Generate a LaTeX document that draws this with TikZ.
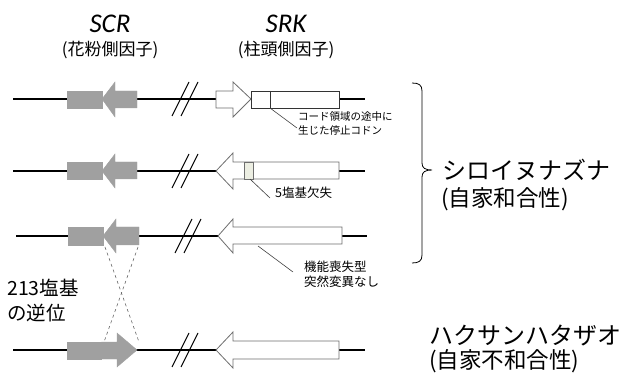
\documentclass[tikz,border=0pt]{standalone}
\usepackage{fontspec}
\setmainfont{Carlito}
\newfontfamily\jp{Noto Sans CJK JP}
\definecolor{genegray}{RGB}{160,160,160}
\definecolor{outl}{RGB}{110,110,110}
\definecolor{mutfill}{RGB}{236,238,226}
\tikzset{
  chrom/.style={line width=2.5pt, black},
  brk/.style={line width=1.1pt, black},
  graygene/.style={fill=genegray, draw=genegray, line width=0.4pt},
  whitegene/.style={fill=white, draw=outl, line width=0.8pt},
  leader/.style={draw=black!75, line width=0.6pt},
  small/.style={inner sep=0pt, align=left, font=\jp\fontsize{10.5}{14}\selectfont},
  mid/.style={inner sep=0pt, align=left, font=\jp\fontsize{12.5}{15}\selectfont},
  big/.style={inner sep=0pt, anchor=west, font=\jp\fontsize{24}{24}\selectfont},
  bigp/.style={inner sep=0pt, anchor=west, font=\jp\fontsize{22.5}{24}\selectfont},
}
\begin{document}
\begin{tikzpicture}[x=1pt,y=-1pt]
\useasboundingbox (0,0) rectangle (621,379);

% headers
\node[inner sep=0pt, font=\fontsize{27}{27}\selectfont\itshape] (scr) at (110,24) {SCR};
\node[inner sep=0pt, font=\jp\fontsize{17}{17}\selectfont] (scrj) at (110,50) {(花粉側因子)};
\node[inner sep=0pt, font=\fontsize{27}{27}\selectfont\itshape] (srk) at (286,24) {SRK};
\node[inner sep=0pt, font=\jp\fontsize{17}{17}\selectfont] (srkj) at (286,50) {(柱頭側因子)};

% ---------- row 1 (y=99)
\coordinate (r1a) at (13,99); \coordinate (r1b) at (365,99);
\draw[chrom] (r1a) -- (r1b);
\draw[brk] (172,116) -- (189,82);
\draw[brk] (181,116) -- (198,82);
\draw[graygene] (67,91) rectangle (102,108);
\draw[graygene] (102,99) -- (115,82) -- (115,91) -- (137,91) -- (137,108) -- (115,108) -- (115,117) -- cycle;
\draw[whitegene] (216,91) -- (233,91) -- (233,82) -- (251,99) -- (233,117) -- (233,108) -- (216,108) -- cycle;
\draw[fill=white, draw=black!80, line width=0.8pt] (251,91) rectangle (339,108);
\draw[black!80, line width=0.8pt] (270,91) -- (270,108);
\coordinate (s1) at (270,108); \coordinate (e1) at (297,128);
\draw[leader] (s1) -- (e1);
\node[small, anchor=north west] (t1) at (298,111) {コード領域の途中に\\生じた停止コドン};

% ---------- row 2 (y=171)
\coordinate (r2a) at (13,171); \coordinate (r2b) at (365,171);
\draw[chrom] (r2a) -- (r2b);
\draw[brk] (172,188) -- (189,154);
\draw[brk] (181,188) -- (198,154);
\draw[graygene] (67,162) rectangle (102,179);
\draw[graygene] (102,171) -- (115,154) -- (115,162) -- (137,162) -- (137,179) -- (115,179) -- (115,188) -- cycle;
\draw[whitegene] (216,171) -- (233,153) -- (233,162) -- (339,162) -- (339,179) -- (233,179) -- (233,189) -- cycle;
\draw[fill=mutfill, draw=outl, line width=0.8pt] (244,162) rectangle (253,179);
\coordinate (s2) at (250,179); \coordinate (e2) at (270,198);
\draw[leader] (s2) -- (e2);
\node[mid, anchor=west] (t2) at (275,193) {5塩基欠失};

% ---------- row 3 (y=236)
\coordinate (r3a) at (16,236); \coordinate (r3b) at (367,236);
\draw[chrom] (r3a) -- (r3b);
\draw[brk] (175,253) -- (192,219);
\draw[brk] (184,253) -- (201,219);
\draw[graygene] (68,227) rectangle (103,245);
\draw[graygene] (103,236) -- (116,219) -- (116,227) -- (139,227) -- (139,245) -- (116,245) -- (116,253) -- cycle;
\draw[whitegene] (218,236) -- (233,219) -- (233,227) -- (342,227) -- (342,244) -- (233,244) -- (233,253) -- cycle;
\coordinate (s3) at (258,246); \coordinate (e3) at (293,272);
\draw[leader] (s3) -- (e3);
\node[mid, anchor=north west] (t3) at (304,261) {機能喪失型\\突然変異なし};

% ---------- row 4 (y=350)
\coordinate (r4a) at (13,350); \coordinate (r4b) at (365,350);
\draw[chrom] (r4a) -- (r4b);
\draw[brk] (172,367) -- (189,333);
\draw[brk] (181,367) -- (198,333);
\draw[graygene] (67,342) rectangle (101,359);
\draw[graygene] (101.6,342) -- (117,342) -- (117,333) -- (137,350) -- (117,367) -- (117,359) -- (101.6,359) -- cycle;
\draw[whitegene] (216,350) -- (233,332) -- (233,341) -- (339,341) -- (339,359) -- (233,359) -- (233,368) -- cycle;

% inversion dashed lines
\coordinate (d1) at (105,247); \coordinate (d2) at (139,342);
\coordinate (d3) at (138,247); \coordinate (d4) at (104,342);
\draw[black!60, line width=0.6pt, dash pattern=on 3pt off 3pt] (d1) -- (d2);
\draw[black!60, line width=0.6pt, dash pattern=on 3pt off 3pt] (d3) -- (d4);
\node[inner sep=0pt, anchor=north west, align=left, font=\jp\fontsize{19.5}{25}\selectfont] (inv) at (7,279) {213塩基\\の逆位};

% brace
\draw[black, line width=0.8pt] (412,83) .. controls (419,83) and (422,85) .. (422,91) -- (422,163) .. controls (422,168) and (425,170) .. (432,170) .. controls (425,170) and (422,172) .. (422,177) -- (422,255) .. controls (422,261) and (419,263) .. (412,263);

% species labels
\node[big] (sp1) at (442,170) {シロイヌナズナ};
\node[bigp] (sp1b) at (441,199) {(自家和合性)};
\node[big] (sp2) at (429,335) {ハクサンハタザオ};
\node[bigp] (sp2b) at (429,361) {(自家不和合性)};
\end{tikzpicture}
\end{document}
